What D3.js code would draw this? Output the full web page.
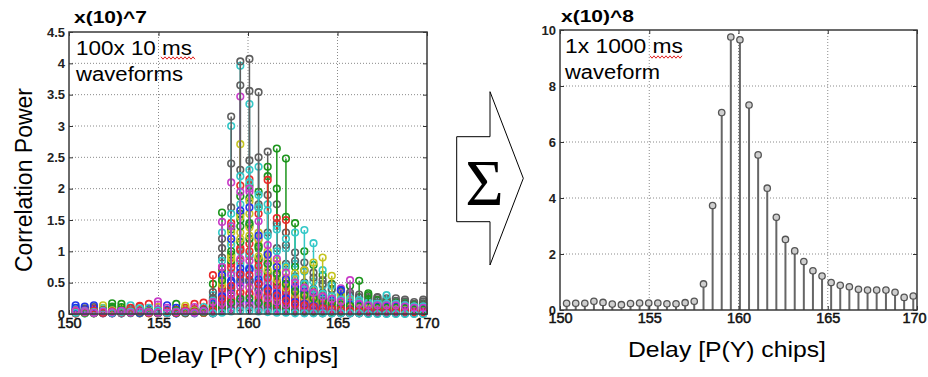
<!DOCTYPE html>
<html><head><meta charset="utf-8">
<script src="https://cdn.jsdelivr.net/npm/d3@7"></script>
<style>body{margin:0;background:#fff}svg{display:block}</style>
</head><body><svg id="c" width="928" height="377"></svg>
<script>
// delay of each sample [P(Y) chips]
const delays = [150.37,150.88,151.39,151.90,152.41,152.93,153.44,153.95,154.46,154.97,155.48,155.99,156.50,157.01,157.52,158.04,158.55,159.06,159.57,160.08,160.59,161.10,161.61,162.12,162.63,163.15,163.66,164.17,164.68,165.19,165.70,166.21,166.72,167.23,167.74,168.26,168.77,169.28,169.79];
// right panel: 1x 1000 ms waveform, x(10)^8
const sumPower = [0.24,0.24,0.24,0.31,0.27,0.21,0.19,0.23,0.25,0.25,0.25,0.22,0.22,0.26,0.31,0.93,3.73,7.05,9.75,9.65,7.32,5.54,4.35,3.31,2.52,2.11,1.73,1.40,1.21,0.98,0.88,0.83,0.74,0.71,0.71,0.71,0.63,0.45,0.50];
const xTicks = [150,155,160,165,170];
const leftYTicks = [0,0.5,1,1.5,2,2.5,3,3.5,4,4.5];
const rightYTicks = [0,2,4,6,8,10];
// left panel: individual 10 ms waveforms, x(10)^7
const wf01 = [0.14,0.03,0.05,0.02,0.08,0.01,0.04,0.06,0.02,0.03,0.05,0.01,0.07,0.02,0.04,0.05,0.25,0.41,0.62,0.55,0.47,0.30,0.27,0.21,0.15,0.12,0.11,0.09,0.07,0.06,0.05,0.05,0.04,0.05,0.04,0.03,0.04,0.03,0.02];
const wf02 = [0.02,0.06,0.01,0.04,0.17,0.03,0.05,0.02,0.08,0.04,0.02,0.06,0.03,0.05,0.02,0.48,1.62,1.35,1.60,1.42,1.05,0.80,0.66,0.47,0.36,0.33,0.24,0.22,0.17,0.14,0.13,0.12,0.10,0.11,0.09,0.10,0.08,0.07,0.08];
const wf03 = [0.05,0.02,0.09,0.03,0.01,0.07,0.03,0.12,0.04,0.02,0.06,0.03,0.02,0.08,0.18,0.62,0.41,0.66,0.85,0.92,0.70,0.48,0.41,0.30,0.22,0.19,0.15,0.13,0.11,0.09,0.08,0.07,0.06,0.06,0.07,0.06,0.05,0.05,0.04];
const wf04 = [0.03,0.01,0.04,0.06,0.02,0.05,0.01,0.03,0.07,0.02,0.04,0.05,0.02,0.03,0.11,0.30,1.30,3.00,3.96,3.35,2.35,1.75,1.40,1.05,0.80,0.68,0.52,0.45,0.38,0.30,0.28,0.26,0.22,0.21,0.22,0.20,0.18,0.15,0.16];
const wf05 = [0.01,0.04,0.02,0.08,0.03,0.02,0.06,0.04,0.01,0.20,0.03,0.02,0.05,0.04,0.03,0.21,1.47,2.10,3.47,1.95,1.20,0.85,0.62,0.45,0.35,0.28,0.22,0.20,0.15,0.13,0.12,0.10,0.09,0.10,0.08,0.09,0.07,0.06,0.07];
const wf06 = [0.06,0.03,0.02,0.10,0.04,0.09,0.02,0.01,0.05,0.03,0.02,0.04,0.06,0.02,0.05,0.04,0.18,0.30,0.35,0.41,0.30,0.22,0.17,0.14,0.10,0.09,0.07,0.06,0.05,0.04,0.04,0.03,0.03,0.03,0.02,0.03,0.02,0.02,0.02];
const wf07 = [0.02,0.05,0.03,0.01,0.04,0.06,0.03,0.05,0.02,0.04,0.03,0.06,0.01,0.04,0.02,0.35,1.20,3.15,4.03,3.56,2.50,1.90,1.45,1.10,0.85,0.70,0.58,0.48,0.40,0.33,0.30,0.27,0.24,0.23,0.22,0.21,0.20,0.16,0.17];
const wf08 = [0.04,0.08,0.03,0.02,0.06,0.03,0.09,0.02,0.04,0.07,0.03,0.05,0.02,0.06,0.03,0.03,0.08,0.15,0.20,0.18,0.16,0.11,0.09,0.07,0.05,0.04,0.04,0.03,0.02,0.02,0.02,0.02,0.01,0.02,0.01,0.02,0.01,0.01,0.01];
const wf09 = [0.03,0.02,0.05,0.04,0.02,0.03,0.07,0.03,0.05,0.02,0.04,0.03,0.05,0.03,0.04,0.08,0.40,0.95,1.50,1.85,1.95,2.20,2.64,2.48,1.45,1.00,0.78,0.62,0.48,0.36,0.45,0.53,0.33,0.22,0.20,0.18,0.17,0.14,0.15];
const wf10 = [0.01,0.03,0.06,0.02,0.05,0.02,0.04,0.08,0.16,0.05,0.01,0.04,0.03,0.02,0.07,0.12,0.45,0.80,1.05,1.12,0.85,0.60,0.50,0.38,0.28,0.24,0.18,0.16,0.13,0.11,0.10,0.09,0.08,0.08,0.07,0.08,0.06,0.05,0.06];
const wf11 = [0.05,0.02,0.03,0.09,0.02,0.04,0.02,0.06,0.03,0.01,0.05,0.02,0.04,0.07,0.03,0.07,0.30,0.52,0.80,0.74,0.60,0.42,0.34,0.27,0.19,0.17,0.13,0.11,0.10,0.08,0.07,0.06,0.06,0.05,0.06,0.05,0.05,0.04,0.04];
const wf12 = [0.02,0.05,0.04,0.01,0.03,0.05,0.02,0.04,0.06,0.03,0.02,0.07,0.03,0.01,0.04,0.02,0.11,0.22,0.27,0.31,0.21,0.17,0.13,0.10,0.08,0.06,0.05,0.04,0.04,0.03,0.03,0.02,0.02,0.02,0.02,0.02,0.02,0.01,0.02];
const wf13 = [0.07,0.01,0.02,0.05,0.03,0.02,0.05,0.03,0.01,0.06,0.04,0.02,0.08,0.05,0.02,0.15,0.65,1.30,2.71,1.80,1.30,1.00,0.80,0.58,0.44,0.37,0.30,0.25,0.22,0.18,0.16,0.14,0.13,0.12,0.12,0.12,0.11,0.09,0.09];
const wf14 = [0.04,0.09,0.01,0.03,0.05,0.02,0.04,0.01,0.03,0.05,0.02,0.03,0.06,0.02,0.05,0.25,1.05,2.40,3.65,4.07,3.54,2.59,1.75,1.30,0.98,0.82,0.66,0.54,0.46,0.38,0.34,0.31,0.27,0.26,0.25,0.25,0.23,0.19,0.20];
const wf15 = [0.03,0.12,0.02,0.04,0.01,0.03,0.05,0.02,0.07,0.04,0.03,0.01,0.05,0.03,0.02,0.05,0.20,0.33,0.50,0.52,0.38,0.28,0.22,0.17,0.13,0.10,0.09,0.07,0.06,0.05,0.05,0.04,0.04,0.03,0.04,0.03,0.03,0.03,0.02];
const wf16 = [0.05,0.03,0.04,0.02,0.06,0.01,0.03,0.04,0.02,0.05,0.03,0.16,0.02,0.04,0.06,0.18,0.72,1.40,1.88,2.05,1.70,2.35,2.00,1.55,0.75,0.45,0.36,0.30,0.24,0.20,0.18,0.16,0.14,0.14,0.13,0.13,0.12,0.10,0.10];
const wf17 = [0.02,0.04,0.07,0.03,0.02,0.05,0.02,0.03,0.05,0.01,0.04,0.06,0.10,0.03,0.04,0.20,0.75,1.45,2.05,2.15,1.60,2.14,1.53,1.50,0.55,0.42,0.35,0.28,0.24,0.20,0.18,0.16,0.14,0.14,0.14,0.13,0.12,0.10,0.10];
const wf18 = [0.09,0.01,0.05,0.03,0.04,0.02,0.06,0.04,0.02,0.03,0.06,0.02,0.04,0.01,0.03,0.09,0.38,0.66,1.00,0.95,0.74,0.55,0.45,0.32,0.26,0.20,0.18,0.14,0.12,0.10,0.09,0.08,0.07,0.07,0.07,0.06,0.06,0.05,0.05];
const wf19 = [0.06,0.02,0.03,0.05,0.02,0.04,0.03,0.02,0.05,0.04,0.02,0.03,0.05,0.04,0.02,0.01,0.06,0.10,0.15,0.14,0.11,0.08,0.07,0.05,0.04,0.03,0.03,0.02,0.02,0.01,0.01,0.01,0.01,0.01,0.01,0.01,0.01,0.01,0.01];
const wf20 = [0.03,0.05,0.02,0.14,0.03,0.06,0.04,0.02,0.03,0.05,0.02,0.04,0.03,0.06,0.04,0.14,0.58,1.15,1.55,1.60,1.18,0.88,0.70,0.52,0.40,0.34,0.27,0.22,0.19,0.16,0.14,0.13,0.11,0.11,0.11,0.11,0.10,0.08,0.08];
const wf21 = [0.01,0.03,0.11,0.02,0.03,0.04,0.02,0.05,0.03,0.02,0.04,0.03,0.05,0.02,0.03,0.22,0.90,1.70,2.30,2.45,1.75,1.30,1.05,0.80,0.60,0.50,0.40,0.34,0.29,0.24,0.22,0.19,0.17,0.17,0.17,0.16,0.15,0.12,0.23];
const wf22 = [0.05,0.02,0.04,0.03,0.06,0.02,0.05,0.03,0.04,0.02,0.06,0.10,0.02,0.05,0.03,0.06,0.27,0.50,0.66,0.70,0.50,0.40,0.31,0.23,0.18,0.15,0.12,0.10,0.08,0.07,0.06,0.06,0.05,0.05,0.05,0.05,0.04,0.03,0.04];
const wf23 = [0.02,0.04,0.03,0.06,0.10,0.11,0.02,0.04,0.02,0.03,0.05,0.02,0.03,0.04,0.02,0.11,0.45,0.85,1.15,1.20,0.88,0.66,0.52,0.40,0.30,0.25,0.21,0.17,0.14,0.12,0.11,0.10,0.08,0.08,0.08,0.08,0.07,0.06,0.06];
const wf24 = [0.04,0.03,0.02,0.05,0.02,0.03,0.06,0.05,0.02,0.04,0.03,0.05,0.02,0.16,0.05,0.03,0.13,0.24,0.34,0.33,0.26,0.19,0.15,0.12,0.09,0.07,0.06,0.05,0.04,0.04,0.03,0.03,0.02,0.02,0.02,0.02,0.02,0.02,0.02];
const wf25 = [0.03,0.05,0.02,0.03,0.04,0.02,0.14,0.02,0.05,0.03,0.02,0.04,0.03,0.05,0.02,0.10,0.50,1.10,1.75,2.10,1.90,1.65,1.35,1.20,1.30,1.34,1.13,0.70,0.45,0.32,0.25,0.22,0.18,0.18,0.30,0.15,0.14,0.12,0.12];
const wf26 = [0.03,0.02,0.06,0.04,0.03,0.05,0.02,0.04,0.03,0.06,0.02,0.04,0.05,0.11,0.04,0.08,0.35,0.62,0.88,0.85,0.65,0.50,0.39,0.30,0.22,0.19,0.15,0.13,0.11,0.41,0.08,0.07,0.06,0.06,0.06,0.06,0.05,0.05,0.05];
const wf27 = [0.02,0.04,0.03,0.02,0.05,0.03,0.04,0.06,0.02,0.11,0.04,0.02,0.05,0.03,0.02,0.12,0.50,0.92,1.30,1.38,1.10,0.95,0.85,0.74,0.65,0.70,0.82,0.90,0.61,0.30,0.22,0.18,0.15,0.14,0.13,0.12,0.11,0.10,0.10];
const wf28 = [0.04,0.02,0.03,0.05,0.02,0.04,0.02,0.03,0.05,0.02,0.04,0.03,0.02,0.04,0.03,0.05,0.20,0.38,0.55,0.52,0.40,0.30,0.24,0.18,0.14,0.12,0.09,0.08,0.07,0.06,0.05,0.05,0.04,0.27,0.04,0.04,0.03,0.03,0.03];
const wf29 = [0.03,0.06,0.04,0.02,0.03,0.05,0.04,0.02,0.04,0.03,0.14,0.02,0.04,0.03,0.05,0.16,0.62,1.20,1.65,1.70,1.25,0.95,0.75,0.55,0.43,0.36,0.29,0.24,0.21,0.38,0.15,0.14,0.12,0.12,0.12,0.12,0.10,0.09,0.09];
const wf30 = [0.05,0.03,0.02,0.04,0.12,0.02,0.05,0.03,0.02,0.04,0.03,0.02,0.04,0.02,0.03,0.02,0.09,0.18,0.24,0.25,0.18,0.14,0.11,0.08,0.06,0.05,0.04,0.04,0.03,0.03,0.02,0.02,0.02,0.02,0.02,0.02,0.02,0.01,0.01];
const wf31 = [0.02,0.05,0.03,0.06,0.04,0.02,0.10,0.05,0.02,0.04,0.03,0.05,0.02,0.04,0.02,0.10,0.40,0.74,1.02,1.00,0.77,0.58,0.46,0.35,0.26,0.22,0.18,0.15,0.13,0.11,0.09,0.09,0.08,0.07,0.07,0.07,0.06,0.05,0.05];
const wf32 = [0.04,0.02,0.05,0.03,0.02,0.04,0.03,0.05,0.10,0.02,0.04,0.03,0.05,0.02,0.04,0.21,0.85,1.60,2.20,2.30,1.70,1.25,1.00,0.76,0.58,0.48,0.39,0.32,0.28,0.23,0.21,0.18,0.16,0.16,0.16,0.16,0.14,0.12,0.12];
const wf33 = [0.03,0.05,0.02,0.03,0.05,0.02,0.04,0.03,0.02,0.15,0.04,0.03,0.02,0.05,0.03,0.04,0.17,0.31,0.44,0.43,0.33,0.25,0.20,0.15,0.11,0.09,0.08,0.06,0.05,0.05,0.04,0.04,0.03,0.03,0.03,0.03,0.03,0.02,0.02];
const wf34 = [0.05,0.02,0.04,0.03,0.06,0.03,0.02,0.04,0.05,0.03,0.02,0.04,0.13,0.05,0.03,0.11,0.47,0.88,1.20,1.25,0.92,0.70,0.55,0.42,0.31,0.26,0.21,0.18,0.15,0.13,0.11,0.10,0.09,0.09,0.09,0.09,0.08,0.06,0.06];
const wf35 = [0.02,0.03,0.05,0.02,0.04,0.03,0.02,0.05,0.03,0.02,0.05,0.03,0.04,0.02,0.03,0.01,0.04,0.07,0.10,0.10,0.07,0.06,0.04,0.03,0.03,0.02,0.02,0.01,0.01,0.01,0.01,0.01,0.01,0.01,0.01,0.01,0.01,0.01,0.01];
const wf36 = [0.10,0.03,0.14,0.04,0.02,0.05,0.03,0.02,0.04,0.05,0.02,0.03,0.04,0.02,0.05,0.07,0.28,0.53,0.73,0.72,0.55,0.41,0.33,0.25,0.19,0.16,0.13,0.11,0.09,0.08,0.07,0.06,0.05,0.05,0.05,0.05,0.05,0.04,0.04];
const wf37 = [0.03,0.02,0.04,0.05,0.03,0.16,0.02,0.03,0.04,0.02,0.03,0.05,0.02,0.04,0.03,0.13,0.54,1.00,1.40,1.45,1.08,0.80,0.64,0.48,0.36,0.30,0.25,0.20,0.17,0.15,0.13,0.12,0.30,0.10,0.10,0.10,0.09,0.07,0.07];
const wf38 = [0.04,0.03,0.05,0.02,0.04,0.03,0.05,0.13,0.02,0.03,0.04,0.02,0.05,0.03,0.04,0.06,0.24,0.45,0.63,0.62,0.48,0.36,0.29,0.21,0.16,0.14,0.11,0.09,0.08,0.07,0.06,0.05,0.05,0.05,0.05,0.05,0.04,0.03,0.03];
const wf39 = [0.02,0.04,0.03,0.05,0.02,0.03,0.04,0.09,0.03,0.05,0.02,0.04,0.03,0.02,0.04,0.01,0.02,0.04,0.05,0.05,0.04,0.03,0.02,0.02,0.01,0.01,0.01,0.01,0.01,0.01,0.01,0.01,0.00,0.00,0.00,0.00,0.00,0.00,0.00];
const wf40 = [0.05,0.03,0.02,0.04,0.03,0.05,0.02,0.04,0.03,0.02,0.10,0.03,0.04,0.02,0.05,0.19,0.75,1.40,1.95,2.00,1.48,1.10,0.88,0.66,0.50,0.42,0.34,0.28,0.24,0.20,0.54,0.16,0.14,0.14,0.14,0.14,0.12,0.10,0.10];
const waveforms = [wf01,wf02,wf03,wf04,wf05,wf06,wf07,wf08,wf09,wf10,wf11,wf12,wf13,wf14,wf15,wf16,wf17,wf18,wf19,wf20,wf21,wf22,wf23,wf24,wf25,wf26,wf27,wf28,wf29,wf30,wf31,wf32,wf33,wf34,wf35,wf36,wf37,wf38,wf39,wf40];
const waveColors = ["#1f35e8","#1c951c","#ea2a2a","#33c8c8","#c83cc8","#c4c420","#5e5e5e"];

const svg = d3.select("#c");
const FONT = "'Liberation Sans', Arial, Helvetica, sans-serif";

function drawGrid(x, y, yTicks) {
  const [x0, x1] = x.range(), [y0, y1] = y.range();
  const g = svg.append("g");
  g.selectAll("line.gx").data(xTicks.slice(1, -1)).join("line")
    .attr("x1", d => x(d)).attr("x2", d => x(d)).attr("y1", y0).attr("y2", y1)
    .attr("stroke", "#8a8a8a").attr("stroke-width", 1).attr("stroke-dasharray", "1,2");
  g.selectAll("line.gy").data(yTicks.slice(1, -1)).join("line")
    .attr("y1", d => y(d)).attr("y2", d => y(d)).attr("x1", x0).attr("x2", x1)
    .attr("stroke", "#8a8a8a").attr("stroke-width", 1).attr("stroke-dasharray", "1,2");
}

function drawAxes(x, y, yTicks, fontY, fontX, xPad, lastShift) {
  const [x0, x1] = x.range(), [y0, y1] = y.range();
  const ax = svg.append("g").attr("font-family", FONT);
  const yl = ax.append("g").attr("transform", `translate(${x0},0)`)
    .call(d3.axisLeft(y).tickValues(yTicks).tickSizeInner(-4).tickSizeOuter(0).tickPadding(4).tickFormat(d => String(d)));
  const yr = ax.append("g").attr("transform", `translate(${x1},0)`)
    .call(d3.axisRight(y).tickValues(yTicks).tickSizeInner(-4).tickSizeOuter(0).tickFormat(""));
  const xb = ax.append("g").attr("transform", `translate(0,${y0})`)
    .call(d3.axisBottom(x).tickValues(xTicks).tickSizeInner(-4).tickSizeOuter(0).tickPadding(xPad).tickFormat(d3.format("d")));
  const xt = ax.append("g").attr("transform", `translate(0,${y1})`)
    .call(d3.axisTop(x).tickValues(xTicks).tickSizeInner(-4).tickSizeOuter(0).tickFormat(""));
  [yl, yr, xb, xt].forEach(a => { a.select(".domain").remove(); a.selectAll(".tick line").attr("stroke", "#333").attr("stroke-width", 1); });
  yl.selectAll("text").attr("font-size", fontY).attr("font-weight", "bold").attr("fill", "#222");
  xb.selectAll("text").attr("font-size", fontX).attr("fill", "#111").attr("stroke", "#111").attr("stroke-width", 0.5)
    .attr("dx", (d, i, n) => i === n.length - 1 ? -lastShift : 0);
  ax.append("rect").attr("x", x0).attr("y", y1).attr("width", x1 - x0).attr("height", y0 - y1)
    .attr("fill", "none").attr("stroke", "#3a3a3a").attr("stroke-width", 1.5);
}

// ---------- Left panel ----------
const xL = d3.scaleLinear().domain([150, 170]).range([69, 427]);
const yL = d3.scaleLinear().domain([0, 4.5]).range([314, 32]);
drawGrid(xL, yL, leftYTicks);
const dataL = svg.append("g");
waveforms.forEach((wf, i) => {
  const c = waveColors[i % waveColors.length];
  const g = dataL.append("g");
  g.selectAll("line").data(wf).join("line")
    .attr("x1", (d, k) => xL(delays[k])).attr("x2", (d, k) => xL(delays[k]))
    .attr("y1", yL(0)).attr("y2", d => yL(d))
    .attr("stroke", c).attr("stroke-width", 1.5);
  g.selectAll("circle").data(wf).join("circle")
    .attr("cx", (d, k) => xL(delays[k])).attr("cy", d => yL(d)).attr("r", 3.3)
    .attr("fill", "none").attr("stroke", c).attr("stroke-width", 1.6);
});
drawAxes(xL, yL, leftYTicks, 13, 14.5, 4, 0);

// ---------- Right panel ----------
const xR = d3.scaleLinear().domain([150, 170]).range([560, 917]);
const yR = d3.scaleLinear().domain([0, 10]).range([310, 30]);
drawGrid(xR, yR, rightYTicks);
const dataR = svg.append("g");
dataR.selectAll("line").data(sumPower).join("line")
  .attr("x1", (d, k) => xR(delays[k])).attr("x2", (d, k) => xR(delays[k]))
  .attr("y1", yR(0)).attr("y2", d => yR(d))
  .attr("stroke", "#666").attr("stroke-width", 2);
dataR.selectAll("circle").data(sumPower).join("circle")
  .attr("cx", (d, k) => xR(delays[k])).attr("cy", d => yR(d)).attr("r", 3.2)
  .attr("fill", "#cfcfcf").attr("stroke", "#555").attr("stroke-width", 1.3);
drawAxes(xR, yR, rightYTicks, 13, 14.5, 3, 3);

// ---------- Texts ----------
function txt(x, y, s, size, opts = {}) {
  const t = svg.append("text").attr("x", x).attr("y", y).text(s)
    .attr("font-family", opts.family || FONT).attr("font-size", size)
    .attr("fill", opts.fill || "#000").attr("text-anchor", opts.anchor || "start");
  if (opts.bold) t.attr("font-weight", "bold");
  if (opts.len) t.attr("textLength", opts.len).attr("lengthAdjust", "spacingAndGlyphs");
  if (opts.rotate) t.attr("transform", `rotate(${opts.rotate},${x},${y})`);
  return t;
}
txt(74, 23, "x(10)^7", 17, { bold: true, len: 73 });
txt(561, 22, "x(10)^8", 17, { bold: true, len: 73 });
txt(76, 55, "100x 10 ms", 20, { len: 116 });
txt(76, 81, "waveforms", 20, { len: 107 });
txt(565, 53, "1x 1000 ms", 20, { len: 118 });
txt(565, 79, "waveform", 20, { len: 95 });
txt(239, 363, "Delay [P(Y) chips]", 22.5, { anchor: "middle", len: 199 });
txt(727, 357, "Delay [P(Y) chips]", 22.5, { anchor: "middle", len: 198 });
txt(32, 180, "Correlation Power", 23, { anchor: "middle", rotate: -90 });

// spell-check squiggles under "ms"
function squiggle(xa, xb, y) {
  const pts = [];
  for (let x = xa, k = 0; x <= xb; x += 2, k++) pts.push([x, y + (k % 2 ? 1.2 : -1.2)]);
  svg.append("path").attr("d", d3.line()(pts)).attr("fill", "none").attr("stroke", "#e02020").attr("stroke-width", 1);
}
squiggle(161, 195, 58);
squiggle(650, 683, 57);

// summation arrow
svg.append("path")
  .attr("d", "M456.7,136.7 H490 V91.7 L523.3,178.3 L490,265 V221.7 H456.7 Z")
  .attr("fill", "#fff").attr("stroke", "#000").attr("stroke-width", 1);
txt(484.5, 205, "\u03A3", 66, { anchor: "middle", family: "'Liberation Serif','DejaVu Serif',serif" });
</script>
</body></html>
